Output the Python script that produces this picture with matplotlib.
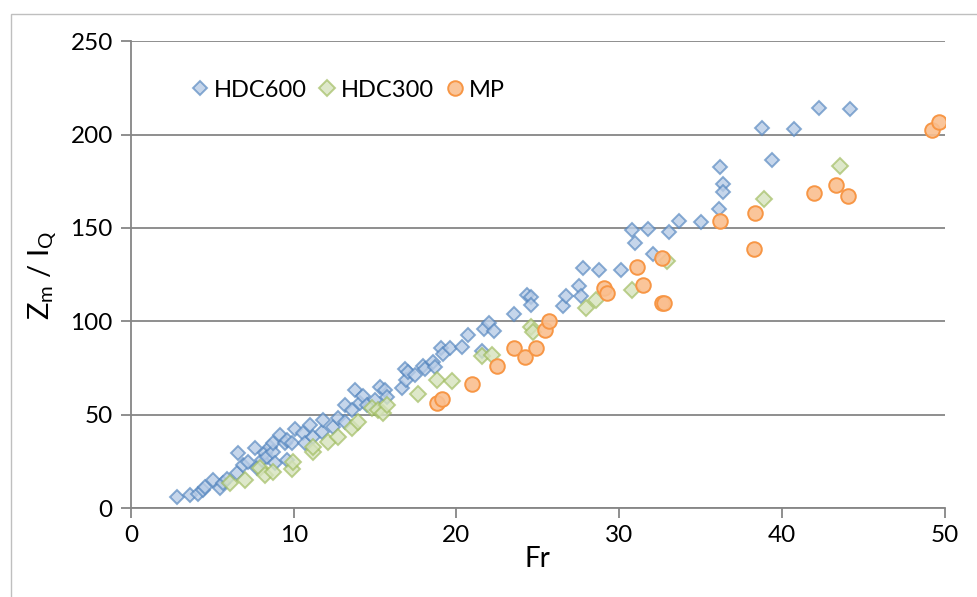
import matplotlib
matplotlib.use("Agg")
import matplotlib.pyplot as plt
from matplotlib.patches import Rectangle

plt.rcParams['font.family'] = ['Lato', 'DejaVu Sans']

# HDC600 (Fr, Zm/IQ)
hdc600_fr = [2.84, 3.62, 4.13, 4.40, 4.55, 5.06, 5.47, 5.67, 5.88, 6.49, 6.59, 6.90,
             7.21, 7.62, 7.72, 8.03, 8.23, 8.34, 8.54, 8.74, 8.74, 8.85, 9.15, 9.46,
             9.56, 9.56, 9.87, 10.07, 10.58, 10.69, 11.0, 11.20, 11.71, 11.81, 12.43,
             12.73, 13.14, 13.14, 13.56, 13.76, 14.07, 14.23, 14.48, 14.99, 15.29,
             15.60, 15.71, 16.63, 16.83, 16.93, 17.03, 17.44, 17.95, 18.06, 18.57,
             18.67, 19.08, 19.18, 19.59, 20.31, 20.72, 21.60, 21.70, 21.99, 22.30,
             23.53, 24.31, 24.55, 24.60, 26.52, 26.70, 27.54, 27.64, 27.75, 28.75,
             30.10, 30.77, 30.96, 31.78, 32.08, 33.03, 33.66, 35.05, 36.12, 36.18,
             36.35, 36.35, 38.80, 39.39, 40.73, 42.28, 44.18]
hdc600_z = [5.7, 7.0, 7.5, 9.6, 11.1, 15.0, 10.5, 13.2, 15.4, 18.6, 29.3, 23.0,
            24.8, 32.0, 21.3, 25.7, 29.3, 27.5, 32.8, 30.1, 34.6, 23.9, 39.1, 34.6,
            36.4, 25.7, 34.6, 42.1, 40.0, 34.6, 44.4, 38.2, 40.8, 47.1, 43.5,
            48.0, 46.2, 55.1, 52.5, 63.2, 56.0, 60.0, 55.1, 57.8, 64.9,
            63.2, 59.6, 64.1, 74.3, 68.5, 73.0, 71.2, 76.0, 74.3, 78.3,
            75.3, 85.5, 82.4, 85.5, 86.3, 92.6, 84.0, 95.7, 99.2, 94.8,
            103.7, 114.0, 113.1, 108.7, 108.1, 113.6, 119.0, 113.5, 128.3, 127.4,
            127.4, 148.8, 142.2, 149.2, 135.8, 147.9, 153.8, 153.3, 159.9, 182.4,
            173.4, 169.0, 203.6, 186.3, 202.8, 214.3, 213.6]

# HDC300
hdc300_fr = [6.08, 7.00, 7.92, 8.23, 8.74, 9.90, 9.95, 11.20, 11.20, 12.12, 12.73,
             13.56, 13.96, 14.79, 15.19, 15.50, 15.71, 17.65, 18.78, 19.70, 21.60,
             22.16, 24.60, 24.70, 27.95, 28.56, 30.76, 32.91, 38.88, 43.55]
hdc300_z = [13.2, 15.0, 21.3, 17.7, 19.4, 20.8, 24.6, 30.0, 32.8, 35.5, 38.2,
            42.7, 46.2, 53.4, 52.5, 50.7, 55.1, 60.9, 68.5, 68.1, 81.4,
            81.9, 97.0, 94.5, 106.9, 111.3, 116.7, 132.2, 165.3, 183.1]

# MP
mp_fr = [18.78, 19.12, 20.93, 22.52, 23.54, 24.20, 24.86, 25.43, 25.69, 29.05,
         29.24, 31.10, 31.49, 32.60, 32.74, 32.64, 36.22, 38.33, 38.31, 41.94,
         43.31, 44.06, 49.24, 49.63]
mp_z = [56.0, 58.2, 66.2, 76.0, 85.5, 81.0, 85.5, 95.3, 100.3, 118.1,
        114.9, 128.9, 119.4, 109.9, 109.9, 134.0, 153.6, 158.1, 138.7, 168.6,
        173.1, 167.2, 202.2, 206.5]

fig = plt.figure(figsize=(9.77, 5.97), dpi=100)
ax = fig.add_axes([0.134, 0.149, 0.833, 0.782])

fig.patches.append(Rectangle((11 / 977, -0.1), 1.2, 1.1 - 14 / 597,
                             transform=fig.transFigure, fill=False,
                             edgecolor='#BFBFBF', linewidth=1.0))

grey = '#868686'
ax.plot(hdc600_fr, hdc600_z, 'D', ms=7.6, mfc=(0.72, 0.80, 0.90, 0.8),
        mec=(0.31, 0.51, 0.74, 0.65), mew=1.4, label='HDC600', zorder=3)
ax.plot(hdc300_fr, hdc300_z, 'D', ms=8.4, mfc=(0.84, 0.89, 0.74, 0.8),
        mec=(0.61, 0.73, 0.35, 0.65), mew=1.4, label='HDC300', zorder=3)
ax.plot(mp_fr, mp_z, 'o', ms=10.5, mfc=(0.98, 0.75, 0.56, 0.9),
        mec=(0.97, 0.59, 0.27, 1.0), mew=1.4, label='MP', zorder=4)

ax.set_xlim(0, 50)
ax.set_ylim(0, 250)
ax.set_xticks(range(0, 51, 10))
ax.set_yticks(range(0, 251, 50))
ax.grid(axis='y', color=grey, linewidth=1.3)
ax.set_axisbelow(True)
for s in ['top', 'right']:
    ax.spines[s].set_visible(False)
for s in ['left', 'bottom']:
    ax.spines[s].set_color(grey)
    ax.spines[s].set_linewidth(1.3)
ax.tick_params(axis='x', direction='out', length=7, width=1.3, color=grey,
               labelsize=17.5, pad=5)
ax.tick_params(axis='y', direction='out', length=7, width=1.3, color=grey,
               labelsize=17.5, pad=6)

ax.set_xlabel('Fr', fontsize=20, labelpad=0)
ax.set_ylabel(r'Z$_\mathregular{m}$ / I$_\mathregular{Q}$', fontsize=21, labelpad=8)

ax.legend(loc='upper left', bbox_to_anchor=(0.05, 0.953), ncol=3, frameon=False,
          fontsize=17, handletextpad=0.1, columnspacing=0.35, handlelength=1.0,
          borderpad=0.2)

fig.savefig('out.png', dpi=100)
